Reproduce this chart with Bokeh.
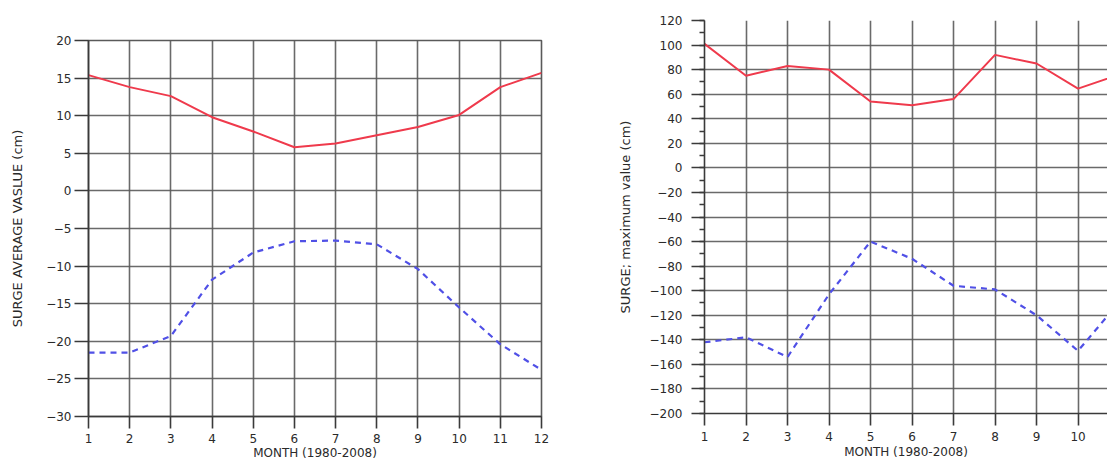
from bokeh.plotting import figure
from bokeh.layouts import row, column
from bokeh.models import FixedTicker, Range1d, Spacer
from bokeh.embed import file_html
from bokeh.resources import INLINE

# ---- data ----
months = [1, 2, 3, 4, 5, 6, 7, 8, 9, 10, 11, 12]
avg_positive = [15.4, 13.8, 12.6, 9.8, 7.9, 5.8, 6.3, 7.4, 8.5, 10.1, 13.8, 15.7]
avg_negative = [-21.5, -21.5, -19.3, -11.8, -8.2, -6.7, -6.6, -7.1, -10.4, -15.5, -20.4, -23.8]

months_max = [1, 2, 3, 4, 5, 6, 7, 8, 9, 10, 11]
max_positive = [101, 75, 83, 80, 54, 51, 56, 92, 85, 64.5, 76]
max_negative = [-142, -138, -154, -103, -60, -74, -96, -99, -120, -149, -109]

left_yticks = [-30, -25, -20, -15, -10, -5, 0, 5, 10, 15, 20]
right_yticks = [-200, -180, -160, -140, -120, -100, -80, -60, -40, -20, 0, 20, 40, 60, 80, 100, 120]
right_yminor = list(range(-200, 130, 10))
right_xticks = [1, 2, 3, 4, 5, 6, 7, 8, 9, 10, 11]

left_ylabel = "SURGE AVERAGE VASLUE (cm)"
right_ylabel = "SURGE; maximum value (cm)"
xlabel = "MONTH (1980-2008)"

RED = "#ef3a4c"
BLUE = "#5050e6"
GRID = "#5a5a5a"
AXIS = "#3a3a3a"
TEXT = "#2a2a2a"
FONT = "DejaVu Sans"


def style(p):
    p.background_fill_color = "white"
    p.border_fill_color = "white"
    for g in (p.xgrid, p.ygrid):
        g.grid_line_color = GRID
        g.grid_line_width = 1.6
        g.grid_line_alpha = 0.9
    for ax in (p.xaxis, p.yaxis):
        ax.axis_line_color = AXIS
        ax.axis_line_width = 1.6
        ax.major_tick_line_color = AXIS
        ax.major_tick_line_width = 1.6
        ax.minor_tick_line_color = AXIS
        ax.minor_tick_line_width = 1.3
        ax.major_tick_in = 0
        ax.minor_tick_in = 0
        ax.major_label_text_font = FONT
        ax.major_label_text_font_size = "12px"
        ax.major_label_text_color = TEXT
        ax.axis_label_text_font = FONT
        ax.axis_label_text_font_style = "normal"
        ax.axis_label_text_color = TEXT
    p.xaxis.axis_label_text_font_size = "12px"
    p.yaxis.axis_label_text_font_size = "13px"
    p.xaxis.major_tick_out = 12
    p.xaxis.major_label_standoff = 5
    p.xaxis.axis_label_standoff = 0
    p.xaxis.minor_tick_out = 0


# ---- left chart ----
p1 = figure(width=600, height=442, x_range=Range1d(1, 12), y_range=Range1d(-30, 20),
            output_backend="svg", toolbar_location=None,
            min_border_left=88, min_border_right=59, min_border_top=20, min_border_bottom=46)
style(p1)
p1.outline_line_color = GRID
p1.outline_line_width = 1.6
p1.xaxis.ticker = FixedTicker(ticks=months)
p1.yaxis.ticker = FixedTicker(ticks=left_yticks)
p1.yaxis.major_tick_out = 14
p1.yaxis.major_label_standoff = 3
p1.yaxis.axis_label_standoff = 18
p1.yaxis.minor_tick_out = 0
p1.xaxis.axis_label = xlabel
p1.yaxis.axis_label = left_ylabel
p1.line(months, avg_positive, line_color=RED, line_width=2)
p1.line(months, avg_negative, line_color=BLUE, line_width=2.2, line_dash="6 5")

# ---- right chart ----
p2 = figure(width=507, height=462, x_range=Range1d(1, 10.71), y_range=Range1d(-200, 120),
            output_backend="svg", toolbar_location=None,
            min_border_left=104, min_border_right=0, min_border_top=20, min_border_bottom=49)
style(p2)
p2.outline_line_color = None
p2.xaxis.ticker = FixedTicker(ticks=right_xticks)
p2.yaxis.ticker = FixedTicker(ticks=right_yticks, minor_ticks=right_yminor)
p2.yaxis.major_tick_out = 13
p2.yaxis.minor_tick_out = 5
p2.yaxis.major_label_standoff = 9
p2.yaxis.axis_label_standoff = 14
p2.xaxis.major_label_standoff = 6
p2.xaxis.axis_label_standoff = 1
p2.xaxis.axis_label = xlabel
p2.yaxis.axis_label = right_ylabel
p2.line(months_max, max_positive, line_color=RED, line_width=2)
p2.line(months_max, max_negative, line_color=BLUE, line_width=2.2, line_dash="6 5")

layout = row(column(Spacer(width=600, height=20), p1), p2)
open("out.html", "w").write(file_html(layout, INLINE))
